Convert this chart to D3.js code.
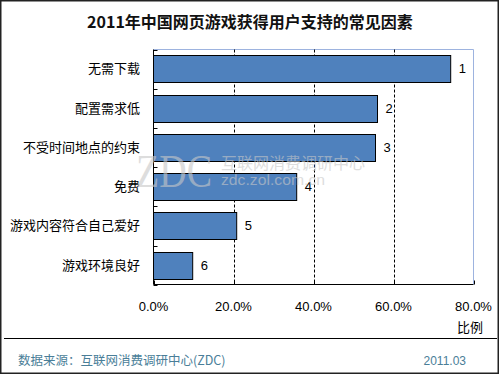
<!DOCTYPE html>
<html><head><meta charset="utf-8">
<script src="https://cdn.jsdelivr.net/npm/d3@7"></script>
<style>body{margin:0;background:#fff}svg{display:block}</style>
</head><body>
<script>
const categories = ["无需下载","配置需求低","不受时间地点的约束","免费","游戏内容符合自己爱好","游戏环境良好"];
const values = [74.3, 56.0, 55.5, 35.8, 20.8, 9.8];
const ranks = ["1","2","3","4","5","6"];
const xTicks = [0, 20, 40, 60, 80];
const title = "2011年中国网页游戏获得用户支持的常见因素";
const axisTitle = "比例";
const source = "数据来源：互联网消费调研中心(ZDC)";
const dateText = "2011.03";

(function(){
const W = 500, H = 375;
const svg = d3.select("body").append("svg").attr("width", W).attr("height", H);
const cjk = "'Noto Sans CJK SC','Noto Sans',sans-serif";
const latin = "Arial,'Liberation Sans',sans-serif";

svg.append("rect").attr("x",0.75).attr("y",0.75).attr("width",497.5).attr("height",372.5)
  .attr("fill","#fff").attr("stroke","#222").attr("stroke-width",1.5);

svg.append("text").attr("x",250).attr("y",28).attr("text-anchor","middle")
  .attr("font-family",cjk).attr("font-weight","bold").attr("font-size",16).attr("fill","#111").text(title);

const pL = 153.5, pR = 473.5, pT = 49.5, pB = 284.5;
const x = d3.scaleLinear().domain([0,80]).range([pL,pR]);
const y = d3.scaleBand().domain(categories).range([pT,pB]).paddingInner(0.31).paddingOuter(0.15);

svg.append("path").attr("d",`M${pL},${pT}H${pR}V${pB}`).attr("fill","none").attr("stroke","#9db3df").attr("stroke-width",1);

svg.append("g").selectAll("line").data(xTicks.filter(d=>d>0&&d<80)).join("line")
  .attr("x1",d=>Math.round(x(d))+0.5).attr("x2",d=>Math.round(x(d))+0.5).attr("y1",pT).attr("y2",pB)
  .attr("stroke","#000").attr("stroke-dasharray","3,2");

svg.append("g").selectAll("rect").data(values).join("rect")
  .attr("x",pL).attr("y",(d,i)=>Math.round(y(categories[i]))+0.5)
  .attr("width",d=>x(d)-pL).attr("height",Math.round(y.bandwidth()))
  .attr("fill","#4f81bd").attr("stroke","#000").attr("stroke-width",1);

svg.append("g").selectAll("text").data(values).join("text")
  .attr("x",d=>x(d)+8).attr("y",(d,i)=>y(categories[i])+y.bandwidth()/2+4.5)
  .attr("font-family",latin).attr("font-size",13).attr("fill","#000").text((d,i)=>ranks[i]);

const step = y.step();
const yTickPos = d3.range(0,7).map(k=>pT + k*step);
svg.append("line").attr("x1",pL).attr("x2",pL).attr("y1",pT).attr("y2",pB).attr("stroke","#000");
svg.append("g").selectAll("line").data(yTickPos).join("line")
  .attr("x1",pL).attr("x2",pL+4).attr("y1",d=>Math.round(d)+0.5).attr("y2",d=>Math.round(d)+0.5).attr("stroke","#000");
svg.append("line").attr("x1",pL).attr("x2",pR).attr("y1",pB).attr("y2",pB).attr("stroke","#000");
svg.append("g").selectAll("line").data(xTicks).join("line")
  .attr("x1",d=>Math.round(x(d))+0.5).attr("x2",d=>Math.round(x(d))+0.5).attr("y1",pB-4).attr("y2",pB).attr("stroke","#000");

svg.append("g").selectAll("text").data(categories).join("text")
  .attr("x",140).attr("y",d=>y(d)+y.bandwidth()/2+4.5).attr("text-anchor","end")
  .attr("font-family",cjk).attr("font-size",13).attr("fill","#000").text(d=>d);

// watermark over the plot
const wm = svg.append("g").attr("fill","#c8c8c8").attr("opacity",0.6);
wm.append("text").attr("x",136).attr("y",187).attr("font-family","'Liberation Serif','DejaVu Serif',serif").attr("font-size",47).attr("textLength",76).attr("lengthAdjust","spacingAndGlyphs").text("ZDC");
wm.append("text").attr("x",221).attr("y",169).attr("font-family",cjk).attr("font-size",16).attr("textLength",144).attr("lengthAdjust","spacingAndGlyphs").text("互联网消费调研中心");
wm.append("text").attr("x",221).attr("y",185).attr("font-family",latin).attr("font-size",15).attr("textLength",104).attr("lengthAdjust","spacingAndGlyphs").text("zdc.zol.com.cn");

svg.append("g").selectAll("text").data(xTicks).join("text")
  .attr("x",d=>x(d)).attr("y",311).attr("text-anchor","middle")
  .attr("font-family",latin).attr("font-size",13).attr("fill","#000").text(d=>d3.format(".1f")(d)+"%");

svg.append("text").attr("x",470).attr("y",332).attr("text-anchor","middle")
  .attr("font-family",cjk).attr("font-size",13).attr("fill","#000").text(axisTitle);

svg.append("line").attr("x1",4).attr("x2",497).attr("y1",338.5).attr("y2",338.5).attr("stroke","#000");

svg.append("text").attr("x",18).attr("y",365).attr("font-family",cjk).attr("font-size",12.5).attr("fill","#4a7e98").text(source);
svg.append("text").attr("x",466).attr("y",365).attr("text-anchor","end").attr("font-family",latin).attr("font-size",12).attr("fill","#4a7e98").text(dateText);
})();
</script>
</body></html>
